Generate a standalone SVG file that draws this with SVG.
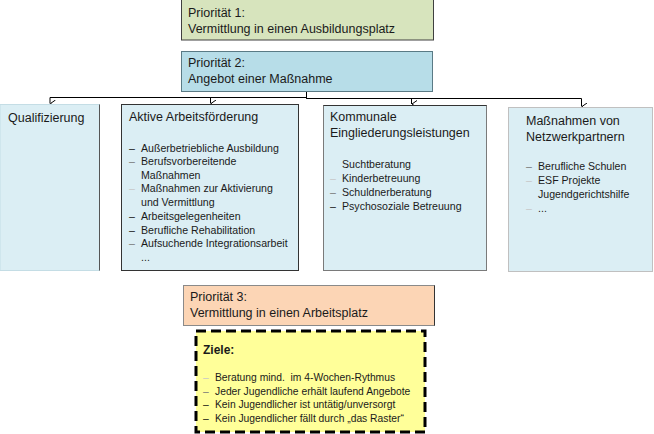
<svg xmlns="http://www.w3.org/2000/svg" width="654" height="434" viewBox="0 0 654 434">
<defs>
<style>
text{font-family:"Liberation Sans",Arial,sans-serif;fill:#1a1a1a}
.t{font-size:12.5px}
.l{font-size:10.6px}
.z{font-size:10.3px}
.d0{fill:#111}
.d1{fill:#777}
.d2{fill:#c8c8c8}
.conn{fill:none;stroke:#000;stroke-width:1}
</style>
<marker id="v" viewBox="0 0 8 6" refX="4" refY="6" markerWidth="8" markerHeight="6" markerUnits="userSpaceOnUse" orient="auto-start-reverse">
<polyline points="0.5,0.5 4,5.5 7.5,0.5" fill="none" stroke="#000" stroke-width="1"/>
</marker>
</defs>
<rect width="654" height="434" fill="#fff"/>

<g id="connectors">
<path class="conn" d="M306.5,91 V97.5 H50 V103.5" marker-end="url(#v)"/>
<path class="conn" d="M306.5,91 V97.5 H210.5 V103.5" marker-end="url(#v)"/>
<path class="conn" d="M306.5,91 V98.5 H411.5 V104" marker-end="url(#v)"/>
<path class="conn" d="M306.5,91 V98.5 H581.5 V106.5" marker-end="url(#v)"/>
</g>

<g id="p1">
<rect x="181.5" y="-1" width="252" height="41" fill="#d7e4bd" stroke="#404040" stroke-width="1"/>
<text class="t" x="188" y="17">Priorität 1:</text>
<text class="t" x="188" y="33">Vermittlung in einen Ausbildungsplatz</text>
</g>

<g id="p2">
<rect x="181.5" y="51.5" width="251" height="40" fill="#b7dde8" stroke="#5a7a85" stroke-width="1"/>
<text class="t" x="188" y="67">Priorität 2:</text>
<text class="t" x="188" y="83">Angebot einer Maßnahme</text>
</g>

<g id="qualifizierung">
<rect x="0" y="104.5" width="99.5" height="166" fill="#dbeef4" stroke="#c4dde5" stroke-width="1"/>
<line x1="99.5" y1="104.5" x2="99.5" y2="270.5" stroke="#555" stroke-width="1"/>
<text class="t" x="8" y="122">Qualifizierung</text>
</g>

<g id="aktive">
<rect x="121.5" y="104.5" width="177" height="166" fill="#dbeef4" stroke="#333" stroke-width="1"/>
<text class="t" x="129" y="121">Aktive Arbeitsförderung</text>
<text class="l d0" x="129" y="152">–</text><text class="l" x="141" y="152">Außerbetriebliche Ausbildung</text>
<text class="l d1" x="129" y="165">–</text><text class="l" x="141" y="165">Berufsvorbereitende</text>
<text class="l" x="141" y="178.5">Maßnahmen</text>
<text class="l d2" x="129" y="192">–</text><text class="l" x="141" y="192">Maßnahmen zur Aktivierung</text>
<text class="l" x="141" y="206">und Vermittlung</text>
<text class="l d0" x="129" y="220">–</text><text class="l" x="141" y="220">Arbeitsgelegenheiten</text>
<text class="l d0" x="129" y="233.5">–</text><text class="l" x="141" y="233.5">Berufliche Rehabilitation</text>
<text class="l d1" x="129" y="247">–</text><text class="l" x="141" y="247">Aufsuchende Integrationsarbeit</text>
<text class="l" x="141" y="261">...</text>
</g>

<g id="kommunale">
<rect x="323.5" y="105.5" width="163" height="165" fill="#dbeef4" stroke="#7a7a7a" stroke-width="1"/>
<line x1="323.5" y1="105.5" x2="486.5" y2="105.5" stroke="#333" stroke-width="1"/>
<text class="t" x="330" y="121">Kommunale</text>
<text class="t" x="330" y="137">Eingliederungsleistungen</text>
<text class="l" x="342" y="168">Suchtberatung</text>
<text class="l d2" x="330" y="182">–</text><text class="l" x="342" y="182">Kinderbetreuung</text>
<text class="l d1" x="330" y="196">–</text><text class="l" x="342" y="196">Schuldnerberatung</text>
<text class="l d0" x="330" y="210">–</text><text class="l" x="342" y="210">Psychosoziale Betreuung</text>
</g>

<g id="netzwerk">
<rect x="508.5" y="107.5" width="144" height="164" fill="#dbeef4" stroke="#c0c0c0" stroke-width="1"/>
<text class="t" x="526" y="125">Maßnahmen von</text>
<text class="t" x="526" y="141">Netzwerkpartnern</text>
<text class="l d1" x="526" y="170">–</text><text class="l" x="538" y="170">Berufliche Schulen</text>
<text class="l d2" x="526" y="184">–</text><text class="l" x="538" y="184">ESF Projekte</text>
<text class="l" x="538" y="198">Jugendgerichtshilfe</text>
<text class="l d2" x="526" y="212">–</text><text class="l" x="538" y="212">...</text>
</g>

<g id="p3">
<rect x="183.5" y="285.5" width="251" height="40" fill="#fcd5b5" stroke="#8a8a8a" stroke-width="1"/>
<line x1="434.5" y1="285.5" x2="434.5" y2="325.5" stroke="#333" stroke-width="1"/>
<text class="t" x="190" y="301">Priorität 3:</text>
<text class="t" x="190" y="317">Vermittlung in einen Arbeitsplatz</text>
</g>

<g id="ziele">
<rect x="196" y="331" width="229" height="101" fill="#ffff99" stroke="#000" stroke-width="3" stroke-dasharray="10 5"/>
<text x="203" y="354" style="font-size:12px;font-weight:bold">Ziele:</text>
<text class="z d2" x="203" y="381">–</text><text class="z" x="215" y="381">Beratung mind.&#160; im 4-Wochen-Rythmus</text>
<text class="z d1" x="203" y="394.5">–</text><text class="z" x="215" y="394.5">Jeder Jugendliche erhält laufend Angebote</text>
<text class="z d0" x="203" y="408">–</text><text class="z" x="215" y="408">Kein Jugendlicher ist untätig/unversorgt</text>
<text class="z d0" x="203" y="422">–</text><text class="z" x="215" y="422">Kein Jugendlicher fällt durch „das Raster“</text>
</g>
</svg>
